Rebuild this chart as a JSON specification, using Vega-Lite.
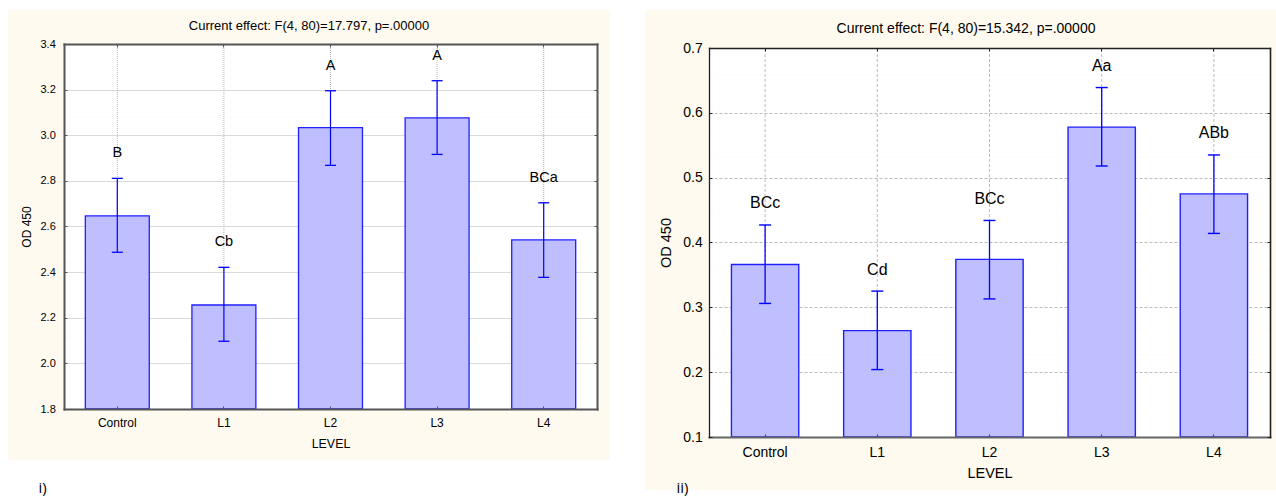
{
  "$schema": "https://vega.github.io/schema/vega-lite/v6.json",
  "padding": {"left": 8, "top": 10, "right": 0, "bottom": 0},
  "background": "#ffffff",
  "spacing": 35,
  "config": {
    "font": "Liberation Sans",
    "view": {"stroke": null},
    "axis": {"labelFont": "Liberation Sans", "titleFont": "Liberation Sans", "labelColor": "#000000", "titleColor": "#000000", "titleFontWeight": "normal"},
    "title": {"font": "Liberation Sans", "fontWeight": "normal", "color": "#000000"}
  },
  "hconcat": [
    {
      "width": 602,
      "height": 450,
      "view": {"fill": "#fefaef", "stroke": null},
      "title": {"text": "Current effect: F(4, 80)=17.797, p=.00000", "frame": "group", "anchor": "middle", "baseline": "middle", "offset": -29.4, "fontSize": 13},
      "data": {"values": [
        {"LEVEL": "Control", "mean": 2.647, "lo": 2.487, "hi": 2.811, "grp": "B"},
        {"LEVEL": "L1", "mean": 2.256, "lo": 2.097, "hi": 2.421, "grp": "Cb"},
        {"LEVEL": "L2", "mean": 3.033, "lo": 2.868, "hi": 3.195, "grp": "A"},
        {"LEVEL": "L3", "mean": 3.076, "lo": 2.916, "hi": 3.239, "grp": "A"},
        {"LEVEL": "L4", "mean": 2.541, "lo": 2.377, "hi": 2.704, "grp": "BCa"}
      ]},
      "resolve": {"axis": {"x": "independent", "y": "independent"}},
      "layer": [
        {
          "mark": {"type": "rule", "stroke": "#b4b4b4", "strokeDash": [1, 1], "strokeWidth": 1},
          "encoding": {
            "x": {"field": "LEVEL", "type": "nominal", "sort": null,
              "scale": {"type": "band", "domain": ["Control", "L1", "L2", "L3", "L4"], "range": [56, 589], "paddingInner": 0, "paddingOuter": 0},
              "axis": {"orient": "bottom", "offset": -51, "bandPosition": 0.5, "domain": true, "domainColor": "#555555", "domainWidth": 2, "domainCap": "square", "ticks": true, "tickSize": -3, "tickColor": "#555555", "tickWidth": 1, "labels": true, "labelFontSize": 12, "labelPadding": 11.4, "labelAngle": 0, "grid": false, "title": "LEVEL", "titleFontSize": 12.4, "titlePadding": 9.5, "zindex": 1}},
            "y": {"datum": 1.8, "type": "quantitative",
              "scale": {"domain": [1.8, 3.4], "range": [399, 34], "nice": false, "zero": false},
              "axis": {"orient": "left", "offset": 0, "domain": false, "ticks": false, "labels": false, "grid": true, "gridColor": "#ffffff", "gridOpacity": 1, "gridWidth": 9.4,
                "values": [1.82,1.86,1.9,1.94,1.98,2.02,2.06,2.1,2.14,2.18,2.22,2.26,2.3,2.34,2.38,2.42,2.46,2.5,2.54,2.58,2.62,2.66,2.7,2.74,2.78,2.82,2.86,2.9,2.94,2.98,3.02,3.06,3.1,3.14,3.18,3.22,3.26,3.3,3.34,3.38],
                "title": "i)", "titleAngle": 0, "titleX": 34, "titleY": 477.5, "titleAlign": "center", "titleBaseline": "middle", "titleFontSize": 15, "titleFont": "Open Sans", "zindex": 0}},
            "y2": {"datum": 3.4}
          }
        },
        {
          "mark": {"type": "bar", "fill": "#bfbfff", "stroke": "#2020ff", "strokeWidth": 1.3, "width": {"band": 0.6}},
          "encoding": {
            "x": {"field": "LEVEL", "type": "nominal", "sort": null,
              "axis": {"orient": "top", "offset": -34, "bandPosition": 0.5, "domain": true, "domainColor": "#555555", "domainWidth": 2, "domainCap": "square", "ticks": true, "tickSize": -3, "tickColor": "#555555", "labels": false, "grid": false, "title": null, "zindex": 1}},
            "y": {"field": "mean", "type": "quantitative",
              "axis": {"orient": "left", "domain": false, "ticks": false, "labels": false, "grid": true, "gridColor": "#b4b4b4", "gridDash": [1, 1], "gridWidth": 1, "values": [2.0, 2.2, 2.4, 2.6, 2.8, 3.0, 3.2], "title": null, "zindex": 0}},
            "y2": {"datum": 1.8}
          }
        },
        {
          "mark": {"type": "rule", "stroke": "#0000ff", "strokeWidth": 1.2},
          "encoding": {
            "x": {"field": "LEVEL", "type": "nominal", "sort": null, "axis": null},
            "y": {"field": "lo", "type": "quantitative",
              "axis": {"orient": "left", "offset": -56, "values": [1.8, 2.0, 2.2, 2.4, 2.6, 2.8, 3.0, 3.2, 3.4], "format": ".1f", "domain": true, "domainColor": "#555555", "domainWidth": 2, "domainCap": "square", "ticks": true, "tickSize": -3, "tickColor": "#555555", "labels": true, "labelFontSize": 11, "labelPadding": 11.7, "grid": false, "title": "OD 450", "titleFontSize": 12, "titlePadding": 7, "zindex": 1}},
            "y2": {"field": "hi"}
          }
        },
        {
          "mark": {"type": "tick", "orient": "horizontal", "size": 11, "thickness": 1.3, "color": "#0000ff", "opacity": 1},
          "encoding": {
            "x": {"field": "LEVEL", "type": "nominal", "sort": null, "axis": null},
            "y": {"field": "hi", "type": "quantitative",
              "axis": {"orient": "right", "offset": -13, "values": [1.8, 2.0, 2.2, 2.4, 2.6, 2.8, 3.0, 3.2, 3.4], "domain": true, "domainColor": "#555555", "domainWidth": 2, "domainCap": "square", "ticks": true, "tickSize": -3, "tickColor": "#555555", "labels": false, "grid": false, "title": null, "zindex": 1}}
          }
        },
        {
          "mark": {"type": "tick", "orient": "horizontal", "size": 11, "thickness": 1.3, "color": "#0000ff", "opacity": 1},
          "encoding": {
            "x": {"field": "LEVEL", "type": "nominal", "sort": null, "axis": null},
            "y": {"field": "lo", "type": "quantitative", "axis": null}
          }
        },
        {
          "mark": {"type": "text", "baseline": "middle", "align": "center", "dy": -25, "fontSize": 14.5, "color": "#000000"},
          "encoding": {
            "x": {"field": "LEVEL", "type": "nominal", "sort": null, "axis": null},
            "y": {"field": "hi", "type": "quantitative", "axis": null},
            "text": {"field": "grp"}
          }
        }
      ]
    },
    {
      "width": 631,
      "height": 480,
      "view": {"fill": "#fefaef", "stroke": null},
      "title": {"text": "Current effect: F(4, 80)=15.342, p=.00000", "frame": "group", "anchor": "middle", "baseline": "middle", "offset": -33.4, "dx": 5.5, "fontSize": 14},
      "data": {"values": [
        {"LEVEL": "Control", "mean": 0.366, "lo": 0.306, "hi": 0.427, "grp": "BCc"},
        {"LEVEL": "L1", "mean": 0.264, "lo": 0.204, "hi": 0.325, "grp": "Cd"},
        {"LEVEL": "L2", "mean": 0.374, "lo": 0.313, "hi": 0.434, "grp": "BCc"},
        {"LEVEL": "L3", "mean": 0.578, "lo": 0.518, "hi": 0.639, "grp": "Aa"},
        {"LEVEL": "L4", "mean": 0.475, "lo": 0.414, "hi": 0.535, "grp": "ABb"}
      ]},
      "resolve": {"axis": {"x": "independent", "y": "independent"}},
      "layer": [
        {
          "mark": {"type": "rule", "stroke": "#bcbcbc", "strokeDash": [3, 2], "strokeWidth": 1},
          "encoding": {
            "x": {"field": "LEVEL", "type": "nominal", "sort": null,
              "scale": {"type": "band", "domain": ["Control", "L1", "L2", "L3", "L4"], "range": [64, 625], "paddingInner": 0, "paddingOuter": 0},
              "axis": {"orient": "bottom", "offset": -53, "bandPosition": 0.5, "domain": true, "domainColor": "#666666", "domainWidth": 2, "domainCap": "square", "ticks": true, "tickSize": -3, "tickColor": "#333333", "labels": true, "labelFontSize": 14, "labelPadding": 11.7, "labelAngle": 0, "grid": false, "title": "LEVEL", "titleFontSize": 14.5, "titlePadding": 6.7, "zindex": 1}},
            "y": {"datum": 0.1, "type": "quantitative",
              "scale": {"domain": [0.1, 0.7], "range": [427, 38], "nice": false, "zero": false},
              "axis": {"orient": "left", "offset": 0, "domain": false, "ticks": false, "labels": false, "grid": true, "gridColor": "#ffffff", "gridOpacity": 1, "gridWidth": 5.4,
                "values": [0.104,0.112,0.12,0.128,0.136,0.144,0.152,0.16,0.168,0.176,0.184,0.192,0.2,0.208,0.216,0.224,0.232,0.24,0.248,0.256,0.264,0.272,0.28,0.288,0.296,0.304,0.312,0.32,0.328,0.336,0.344,0.352,0.36,0.368,0.376,0.384,0.392,0.4,0.408,0.416,0.424,0.432,0.44,0.448,0.456,0.464,0.472,0.48,0.488,0.496,0.504,0.512,0.52,0.528,0.536,0.544,0.552,0.56,0.568,0.576,0.584,0.592,0.6,0.608,0.616,0.624,0.632,0.64,0.648,0.656,0.664,0.672,0.68,0.688,0.696],
                "title": "ii)", "titleAngle": 0, "titleX": 37, "titleY": 477.5, "titleAlign": "center", "titleBaseline": "middle", "titleFontSize": 15, "titleFont": "Open Sans", "zindex": 0}},
            "y2": {"datum": 0.7}
          }
        },
        {
          "mark": {"type": "bar", "fill": "#bfbfff", "stroke": "#2020ff", "strokeWidth": 1.4, "width": {"band": 0.6}},
          "encoding": {
            "x": {"field": "LEVEL", "type": "nominal", "sort": null,
              "axis": {"orient": "top", "offset": -38, "bandPosition": 0.5, "domain": true, "domainColor": "#222222", "domainWidth": 1.3, "domainCap": "square", "ticks": true, "tickSize": -3, "tickColor": "#222222", "labels": false, "grid": false, "title": null, "zindex": 1}},
            "y": {"field": "mean", "type": "quantitative",
              "axis": {"orient": "left", "domain": false, "ticks": false, "labels": false, "grid": true, "gridColor": "#bcbcbc", "gridDash": [3, 2], "gridWidth": 1, "values": [0.2, 0.3, 0.4, 0.5, 0.6], "title": null, "zindex": 0}},
            "y2": {"datum": 0.1}
          }
        },
        {
          "mark": {"type": "rule", "stroke": "#0000ff", "strokeWidth": 1.3},
          "encoding": {
            "x": {"field": "LEVEL", "type": "nominal", "sort": null, "axis": null},
            "y": {"field": "lo", "type": "quantitative",
              "axis": {"orient": "left", "offset": -64, "values": [0.1, 0.2, 0.3, 0.4, 0.5, 0.6, 0.7], "format": ".1f", "domain": true, "domainColor": "#222222", "domainWidth": 1.3, "domainCap": "square", "ticks": true, "tickSize": -3, "tickColor": "#222222", "labels": true, "labelFontSize": 14, "labelPadding": 9.7, "grid": false, "title": "OD 450", "titleFontSize": 14.5, "titlePadding": 9.7, "zindex": 1}},
            "y2": {"field": "hi"}
          }
        },
        {
          "mark": {"type": "tick", "orient": "horizontal", "size": 12, "thickness": 1.4, "color": "#0000ff", "opacity": 1},
          "encoding": {
            "x": {"field": "LEVEL", "type": "nominal", "sort": null, "axis": null},
            "y": {"field": "hi", "type": "quantitative",
              "axis": {"orient": "right", "offset": -6, "values": [0.1, 0.2, 0.3, 0.4, 0.5, 0.6, 0.7], "domain": true, "domainColor": "#222222", "domainWidth": 1.6, "domainCap": "square", "ticks": true, "tickSize": -3, "tickColor": "#222222", "labels": false, "grid": false, "title": null, "zindex": 1}}
          }
        },
        {
          "mark": {"type": "tick", "orient": "horizontal", "size": 12, "thickness": 1.4, "color": "#0000ff", "opacity": 1},
          "encoding": {
            "x": {"field": "LEVEL", "type": "nominal", "sort": null, "axis": null},
            "y": {"field": "lo", "type": "quantitative", "axis": null}
          }
        },
        {
          "mark": {"type": "text", "baseline": "middle", "align": "center", "dy": -21.5, "fontSize": 16, "color": "#000000"},
          "encoding": {
            "x": {"field": "LEVEL", "type": "nominal", "sort": null, "axis": null},
            "y": {"field": "hi", "type": "quantitative", "axis": null},
            "text": {"field": "grp"}
          }
        }
      ]
    }
  ]
}
